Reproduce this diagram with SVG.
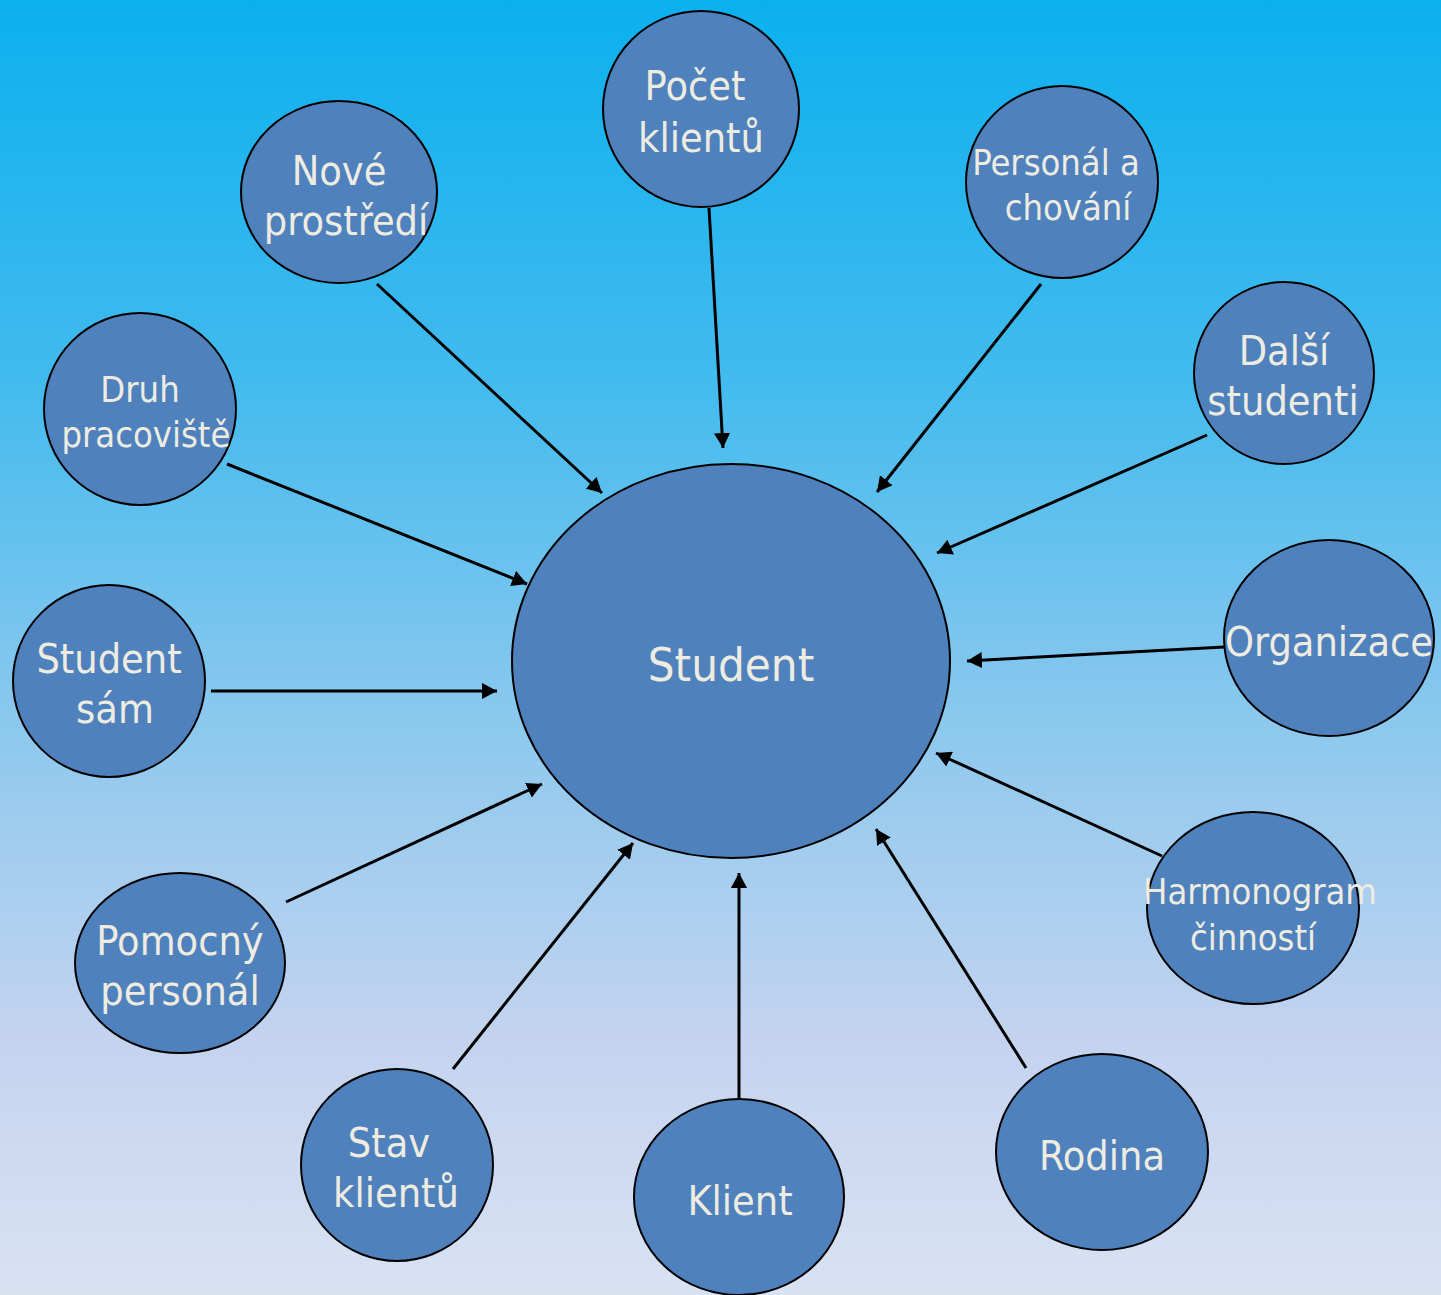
<svg xmlns="http://www.w3.org/2000/svg" width="1441" height="1295" viewBox="0 0 1441 1295">
<defs>
<linearGradient id="bg" x1="0" y1="0" x2="0" y2="1">
<stop offset="0" stop-color="#0bb0ef"/>
<stop offset="0.3" stop-color="#44bbee"/>
<stop offset="0.55" stop-color="#8ac8ee"/>
<stop offset="0.8" stop-color="#c3d3ef"/>
<stop offset="1" stop-color="#d9e2f3"/>
</linearGradient>
<marker id="ah" viewBox="0 0 10 10" refX="10" refY="5" markerWidth="5" markerHeight="5.4" markerUnits="strokeWidth" orient="auto" preserveAspectRatio="none">
<path d="M0,0 L10,5 L0,10 Z" fill="#000"/>
</marker>
</defs>
<style>
.n{fill:#4f81bd;stroke:#000;stroke-width:2}
.t{fill:#eeece1;font-family:"DejaVu Sans Condensed","DejaVu Sans",sans-serif;text-anchor:middle;font-size:41px}
.s{font-size:36px}
.c line{stroke:#000;stroke-width:3;marker-end:url(#ah)}
</style>
<rect width="1441" height="1295" fill="url(#bg)"/>
<g class="c" id="connectors">
<line x1="377" y1="284" x2="602" y2="493"/>
<line x1="709" y1="208" x2="723" y2="448"/>
<line x1="1041" y1="284" x2="877" y2="492"/>
<line x1="1207" y1="435" x2="937" y2="553"/>
<line x1="227" y1="464" x2="527" y2="584"/>
<line x1="1224" y1="647" x2="967" y2="661"/>
<line x1="211" y1="691" x2="497" y2="691"/>
<line x1="286" y1="902" x2="542" y2="784"/>
<line x1="1162" y1="856" x2="936" y2="753"/>
<line x1="453" y1="1069" x2="633" y2="843"/>
<line x1="739" y1="1099" x2="739" y2="873"/>
<line x1="1026" y1="1068" x2="876" y2="829"/>
</g>
<g id="student"><ellipse class="n" cx="731" cy="661" rx="219" ry="197"/><text class="t" x="731" y="681" style="font-size:47px">Student</text></g>
<g id="pocet"><ellipse class="n" cx="701" cy="109" rx="98" ry="98"/><text class="t" x="695" y="100">Počet</text><text class="t" x="701" y="152">klientů</text></g>
<g id="nove"><ellipse class="n" cx="339" cy="192" rx="98" ry="91"/><text class="t" x="339" y="185">Nové</text><text class="t" x="346" y="235">prostředí</text></g>
<g id="personal"><ellipse class="n" cx="1062" cy="182" rx="96" ry="96"/><text class="t s" x="1056" y="175">Personál a</text><text class="t s" x="1068" y="220">chování</text></g>
<g id="dalsi"><ellipse class="n" cx="1284" cy="373" rx="90" ry="91"/><text class="t" x="1284" y="365">Další</text><text class="t" x="1283" y="415">studenti</text></g>
<g id="druh"><ellipse class="n" cx="140" cy="409" rx="96" ry="96"/><text class="t s" x="140" y="402">Druh</text><text class="t s" x="146" y="447">pracoviště</text></g>
<g id="organizace"><ellipse class="n" cx="1329" cy="638" rx="105" ry="98"/><text class="t" x="1329" y="656">Organizace</text></g>
<g id="studentsam"><ellipse class="n" cx="109" cy="681" rx="96" ry="96"/><text class="t" x="109" y="673">Student</text><text class="t" x="115" y="723">sám</text></g>
<g id="harmonogram"><ellipse class="n" cx="1253" cy="908" rx="106" ry="96"/><text class="t s" x="1260" y="904">Harmonogram</text><text class="t s" x="1253" y="950">činností</text></g>
<g id="pomocny"><ellipse class="n" cx="180" cy="963" rx="105" ry="90"/><text class="t" x="180" y="955">Pomocný</text><text class="t" x="180" y="1005">personál</text></g>
<g id="stav"><ellipse class="n" cx="397" cy="1165" rx="96" ry="96"/><text class="t" x="389" y="1157">Stav</text><text class="t" x="396" y="1207">klientů</text></g>
<g id="klient"><ellipse class="n" cx="739" cy="1197" rx="105" ry="98"/><text class="t" x="740" y="1215">Klient</text></g>
<g id="rodina"><ellipse class="n" cx="1102" cy="1152" rx="106" ry="98"/><text class="t" x="1102" y="1170">Rodina</text></g>
</svg>
